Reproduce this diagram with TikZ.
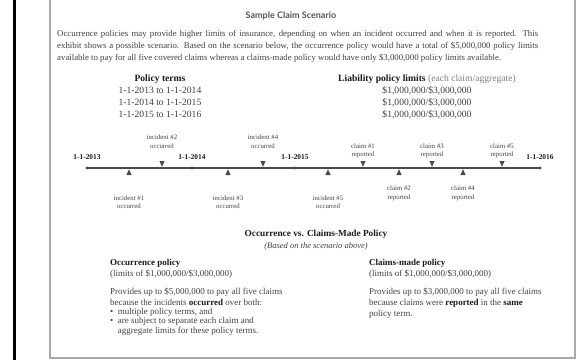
\documentclass[tikz,border=0pt]{standalone}
\usepackage{fontspec}
\setmainfont{Liberation Serif}
\newfontfamily\titlefont{Lato}
\usetikzlibrary{positioning}
\definecolor{bodygray}{HTML}{404040}
\definecolor{headblack}{HTML}{1A1A1A}
\definecolor{framegray}{HTML}{A9A9A9}
\definecolor{titlegray}{HTML}{555555}
\definecolor{linegray}{HTML}{4A4A4A}
\tikzset{
  body/.style={inner sep=0pt, text=bodygray, font=\fontsize{9.6}{12}\selectfont},
  tlabel/.style={inner sep=0pt, text=bodygray, align=center, font=\fontsize{6.8}{8.5}\selectfont},
  yearlabel/.style={inner sep=0pt, text=headblack, font=\bfseries\fontsize{7.4}{9}\selectfont},
  pics/downmark/.style={code={\fill[linegray] (-2.6,-7) -- (2.6,-7) -- (0,-1.2) -- cycle;}},
  pics/upmark/.style={code={\fill[linegray] (-2.6,7) -- (2.6,7) -- (0,1.2) -- cycle;}},
}
\begin{document}
\begin{tikzpicture}[x=1pt,y=-1pt]
\useasboundingbox (0,0) rectangle (577,360);
%%Frame
\draw[line width=3pt] (14.5,0) -- (14.5,360);
\draw[framegray,line width=1.3pt] (50,0) -- (50,358) -- (575,358) -- (575,0);

%%Heading (align-only nodes sit on their last baseline)
\node[inner sep=0pt, text=titlegray, font=\titlefont\bfseries\fontsize{9}{11}\selectfont, anchor=base] (title) at (291,18) {Sample Claim Scenario};
\node[body, font=\fontsize{8.8}{12}\selectfont, text width=481pt, align=justify, anchor=base west] (intro) at (57,36)
  {Occurrence policies may provide higher limits of insurance, depending on when an incident occurred and when it is reported. This\linebreak
   exhibit shows a possible scenario. Based on the scenario below, the occurrence policy would have a total of \$5,000,000 policy limits\linebreak
   available to pay for all five covered claims whereas a claims-made policy would have only \$3,000,000 policy limits available.};

%%Terms and limits
\node[body, align=center, anchor=base] (terms) at (160,117)
  {\textcolor{headblack}{\textbf{Policy terms}}\\1-1-2013 to 1-1-2014\\1-1-2014 to 1-1-2015\\1-1-2015 to 1-1-2016};
\node[body, align=center, anchor=base] (limits) at (427,117)
  {\textcolor{headblack}{\textbf{Liability policy limits}} \textcolor{gray}{(each claim/aggregate)}\\\$1,000,000/\$3,000,000\\\$1,000,000/\$3,000,000\\\$1,000,000/\$3,000,000};

%%Timeline
\coordinate (y2013) at (87,168);
\coordinate (y2014) at (192,168);
\coordinate (y2015) at (295,168);
\coordinate (y2016) at (540,168);
\draw[linegray, line width=1.6pt] (y2013) -- (y2016);
\foreach \y in {y2013,y2014,y2015,y2016}
  \fill[linegray] (\y) circle (1.7);
\node[yearlabel, anchor=base] (l2013) at (87,159) {1-1-2013};
\node[yearlabel, anchor=base] (l2014) at (192,159) {1-1-2014};
\node[yearlabel, anchor=base] (l2015) at (295,159) {1-1-2015};
\node[yearlabel, anchor=base] (l2016) at (540,159) {1-1-2016};

%%Markers
\coordinate (i1) at (129,168);
\coordinate (i2) at (162,168);
\coordinate (i3) at (228,168);
\coordinate (i4) at (263,168);
\coordinate (i5) at (328,168);
\coordinate (c1) at (363,168);
\coordinate (c2) at (399,168);
\coordinate (c3) at (432,168);
\coordinate (c4) at (463,168);
\coordinate (c5) at (502,168);
\foreach \m in {i2,i4,c1,c3,c5}
  \pic at (\m) {downmark};
\foreach \m in {i1,i3,i5,c2,c4}
  \pic at (\m) {upmark};

%%Marker labels
\node[tlabel, anchor=base] (inc1) at (129,208.5) {incident \#1\\occurred};
\node[tlabel, anchor=base] (inc2) at (162,148) {incident \#2\\occurred};
\node[tlabel, anchor=base] (inc3) at (228,208.5) {incident \#3\\occurred};
\node[tlabel, anchor=base] (inc4) at (263,148) {incident \#4\\occurred};
\node[tlabel, anchor=base] (inc5) at (328,208.5) {incident \#5\\occurred};
\node[tlabel, anchor=base] (clm1) at (363,156.5) {claim \#1\\reported};
\node[tlabel, anchor=base] (clm2) at (399,199) {claim \#2\\reported};
\node[tlabel, anchor=base] (clm3) at (432,156.5) {claim \#3\\reported};
\node[tlabel, anchor=base] (clm4) at (463,199) {claim \#4\\reported};
\node[tlabel, anchor=base] (clm5) at (502,156.5) {claim \#5\\reported};

%%Comparison
\node[inner sep=0pt, text=headblack, font=\bfseries\fontsize{9.3}{11}\selectfont, anchor=base] (compare) at (316,236) {Occurrence vs. Claims-Made Policy};
\node[inner sep=0pt, text=bodygray, font=\itshape\fontsize{8.5}{10}\selectfont, anchor=base] (based) at (316,248) {(Based on the scenario above)};

\node[body, font=\fontsize{9}{11}\selectfont, align=left, anchor=base west] (occhead) at (110,276)
  {\textcolor{headblack}{\textbf{Occurrence policy}}\\(limits of \$1,000,000/\$3,000,000)};
\node[body, font=\fontsize{9}{11}\selectfont, align=left, anchor=base west] (occtext) at (110,305)
  {Provides up to \$5,000,000 to pay all five claims\\because the incidents \textcolor{headblack}{\textbf{occurred}} over both:};
\node[body, font=\fontsize{9}{9.6}\selectfont, align=left, anchor=base west] (occlist) at (110,333.2)
  {\textbullet\hspace{4.5pt}multiple policy terms, and\\
   \textbullet\hspace{4.5pt}are subject to separate each claim and\\
   \phantom{\textbullet}\hspace{4.5pt}aggregate limits for these policy terms.};

\node[body, font=\fontsize{9}{11}\selectfont, align=left, anchor=base west] (cmhead) at (369,276)
  {\textcolor{headblack}{\textbf{Claims-made policy}}\\(limits of \$1,000,000/\$3,000,000)};
\node[body, font=\fontsize{9}{11}\selectfont, align=left, anchor=base west] (cmtext) at (369,316)
  {Provides up to \$3,000,000 to pay all five claims\\because claims were \textcolor{headblack}{\textbf{reported}} in the \textcolor{headblack}{\textbf{same}}\\policy term.};
\end{tikzpicture}
\end{document}
